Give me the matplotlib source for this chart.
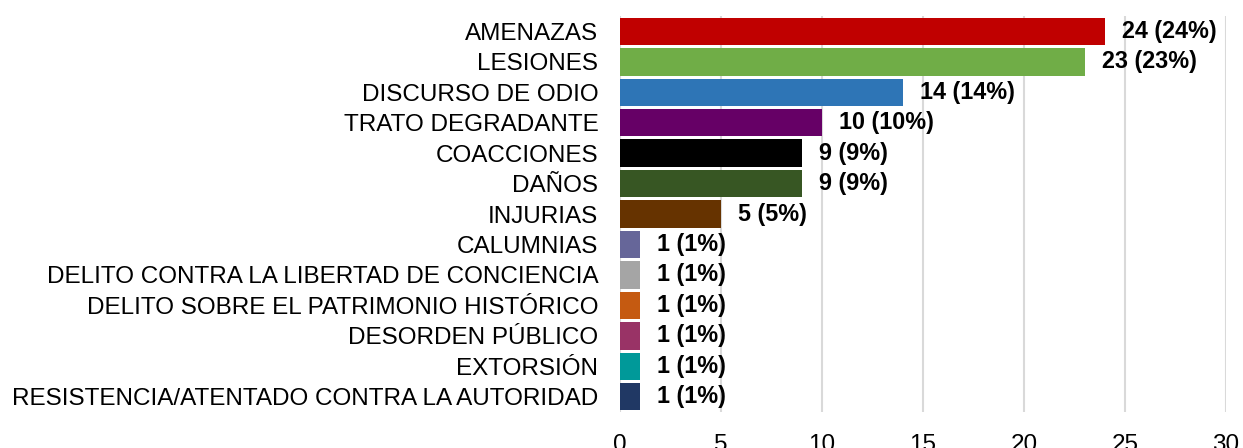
import matplotlib.pyplot as plt
import numpy as np

plt.rcParams['font.family'] = ['Liberation Sans', 'DejaVu Sans']

categories = ["AMENAZAS", "LESIONES", "DISCURSO DE ODIO", "TRATO DEGRADANTE",
              "COACCIONES", "DAÑOS", "INJURIAS", "CALUMNIAS",
              "DELITO CONTRA LA LIBERTAD DE CONCIENCIA",
              "DELITO SOBRE EL PATRIMONIO HISTÓRICO", "DESORDEN PÚBLICO",
              "EXTORSIÓN", "RESISTENCIA/ATENTADO CONTRA LA AUTORIDAD"]
values = [24, 23, 14, 10, 9, 9, 5, 1, 1, 1, 1, 1, 1]
percents = [24, 23, 14, 10, 9, 9, 5, 1, 1, 1, 1, 1, 1]
colors = ["#c00000", "#70ad47", "#2e75b6", "#660066", "#000000", "#375623",
          "#663300", "#666699", "#a5a5a5", "#c55a11", "#993366", "#009999",
          "#203864"]

fig = plt.figure(figsize=(12.43, 4.48), dpi=100)
ax = fig.add_axes([0.4988, 0.0804, 0.4875, 0.8836])

y = np.arange(len(categories))
ax.barh(y, values, height=0.9, color=colors, zorder=2)
for yi, v, p in zip(y, values, percents):
    ax.text(v + 0.85, yi, "%d (%d%%)" % (v, p), va='center', ha='left',
            fontsize=16.8, fontweight='bold', color='black')

ax.set_xlim(0, 30)
ax.set_ylim(len(categories) - 0.5, -0.5)
ax.set_yticks(y)
ax.set_yticklabels(categories, fontsize=17.5)
ax.set_xticks(np.arange(0, 31, 5))
ax.tick_params(axis='x', labelsize=17.5, length=0, pad=15.5)
ax.tick_params(axis='y', length=0, pad=15.5)
ax.grid(axis='x', color='#d9d9d9', linewidth=1.5, zorder=0)
for s in ax.spines.values():
    s.set_visible(False)

fig.savefig("out.png", dpi=100)
